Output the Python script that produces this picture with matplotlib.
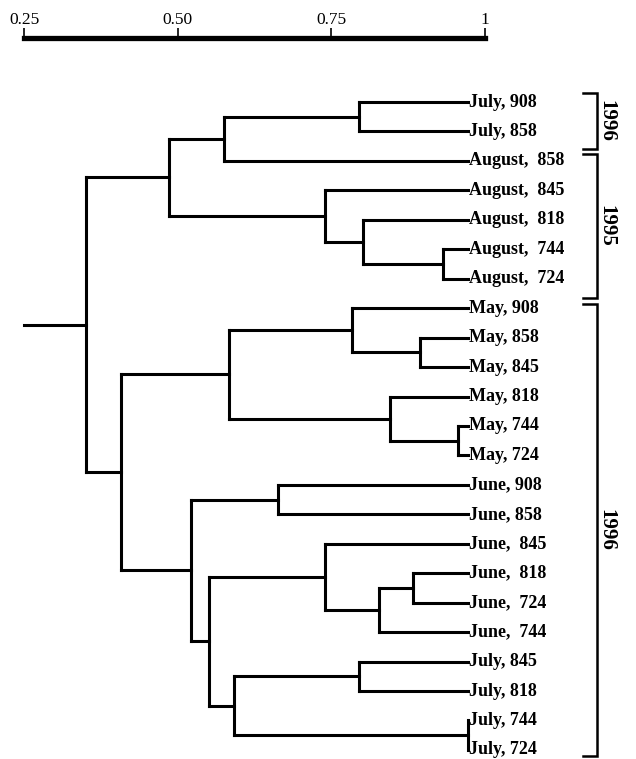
import matplotlib
matplotlib.use("Agg")
import matplotlib.pyplot as plt

# leaf labels, top to bottom
leaves = ["July, 908", "July, 858",
          "August,  858", "August,  845", "August,  818", "August,  744", "August,  724",
          "May, 908", "May, 858", "May, 845", "May, 818", "May, 744", "May, 724",
          "June, 908", "June, 858", "June,  845", "June,  818", "June,  724", "June,  744",
          "July, 845", "July, 818", "July, 744", "July, 724"]

# merges: (child a, child b, similarity); new nodes get ids 23, 24, ...
merge_a = [0, 23, 5, 4, 3, 24, 8, 7, 11, 10, 30, 13, 16, 35, 15, 19, 21, 38, 37, 34, 33, 28]
merge_b = [1, 2, 6, 25, 26, 27, 9, 29, 12, 31, 32, 14, 17, 18, 36, 20, 22, 39, 40, 41, 42, 43]
merge_h = [0.794, 0.575, 0.930, 0.800, 0.739, 0.485, 0.893, 0.782, 0.955, 0.844, 0.583,
           0.662, 0.881, 0.826, 0.739, 0.794, 0.970, 0.591, 0.550, 0.521, 0.407, 0.351]

leaf_level = 0.97
scale_ticks = [0.25, 0.50, 0.75, 1.0]
scale_labels = ["0.25", "0.50", "0.75", "1"]

# year brackets on the right
years = ["1996", "1995", "1996"]
year_first = [0, 2, 7]
year_last = [1, 6, 22]

plt.rcParams['font.family'] = ['Liberation Serif', 'DejaVu Serif']

fig = plt.figure(figsize=(6.36, 7.59), dpi=100)
ax = fig.add_axes([0, 0, 1, 1])
ax.set_xlim(0.25 - 24 / 616, 0.25 + 612 / 616)
ax.set_ylim((759 - 102) / 29.45, -102 / 29.45)
ax.axis("off")

lw = 2.2
kw = dict(color="black", lw=lw, solid_capstyle="projecting")

# positions of nodes
ys = {i: float(i) for i in range(len(leaves))}
hs = {i: leaf_level for i in range(len(leaves))}
node = len(leaves)
for a, b, h in zip(merge_a, merge_b, merge_h):
    ax.plot([h, h], [ys[a], ys[b]], **kw)
    ax.plot([h, hs[a]], [ys[a], ys[a]], **kw)
    ax.plot([h, hs[b]], [ys[b], ys[b]], **kw)
    ys[node] = (ys[a] + ys[b]) / 2
    hs[node] = h
    node += 1

root = node - 1
ax.plot([0.25, hs[root]], [ys[root], ys[root]], **kw)

for i, name in enumerate(leaves):
    ax.text(leaf_level + 0.003, i, name, ha="left", va="center",
            fontsize=13, fontweight="bold")

# year brackets
bx0, bx1, tx = 1.157, 1.180, 1.196
pads_top = [0.3, 0.25, 0.15]
pads_bot = [0.6, 0.65, 0.22]
for yr, f, l, pt, pb in zip(years, year_first, year_last, pads_top, pads_bot):
    y0, y1 = f - pt, l + pb
    ax.plot([bx0, bx1, bx1, bx0], [y0, y0, y1, y1], color="black", lw=1.8,
            solid_joinstyle="miter")
    ax.text(tx, (y0 + y1) / 2, yr, rotation=270, ha="center", va="center",
            fontsize=15, fontweight="bold")

# similarity scale bar
sb = fig.add_axes([24 / 636, 1 - 38 / 759, (485 - 24) / 636, 0.0001])
sb.set_xlim(0.25, 1.0)
for s in ["left", "right", "bottom"]:
    sb.spines[s].set_visible(False)
sb.spines["top"].set_linewidth(3.8)
sb.set_yticks([])
sb.xaxis.tick_top()
sb.set_xticks(scale_ticks, scale_labels)
sb.tick_params(axis="x", direction="out", length=7, width=1.2, labelsize=12.5, pad=0.5)

fig.savefig("out.png", dpi=100)
